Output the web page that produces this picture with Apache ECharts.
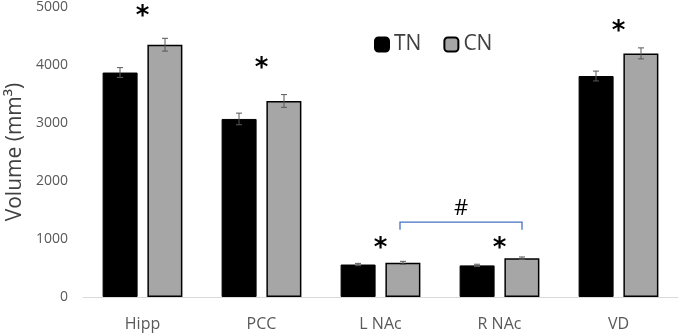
<!DOCTYPE html>
<html>
<head>
<meta charset="utf-8">
<script src="https://cdn.jsdelivr.net/npm/echarts@6/dist/echarts.min.js"></script>
<style>
  html, body { margin: 0; padding: 0; background: #fff; }
  #chart { width: 680px; height: 335px; }
</style>
</head>
<body>
<div id="chart"></div>
<script>
const categories = ['Hipp', 'PCC', 'L NAc', 'R NAc', 'VD']
const tnValues = [3870, 3070, 560, 545, 3810]
const tnErrors = [85, 100, 20, 20, 85]
const cnValues = [4350, 3380, 590, 670, 4200]
const cnErrors = [110, 110, 25, 20, 95]
// asterisk heights (in volume units)
const starValues = [4900, 3990, 900, 900, 4640]
// bracket between L NAc CN and R NAc CN
const bracketFrom = 2
const bracketTo = 3
const bracketLow = 1160
const bracketHigh = 1290

const font = '"Open Sans", "Noto Sans", sans-serif'
const barWidth = 35
const barOffset = 22.5

function errorSeries(name, values, errors, offset) {
  return {
    name: name + 'err',
    type: 'custom',
    z: 5,
    silent: true,
    data: values.map((v, i) => [i, v - errors[i], v + errors[i]]),
    renderItem(params, api) {
      const lo = api.coord([api.value(0), api.value(1)])
      const hi = api.coord([api.value(0), api.value(2)])
      const x = lo[0] + offset
      const cap = 3
      const style = { stroke: '#595959', lineWidth: 1 }
      return {
        type: 'group',
        children: [
          { type: 'line', shape: { x1: x, y1: lo[1], x2: x, y2: hi[1] }, style },
          { type: 'line', shape: { x1: x - cap, y1: lo[1], x2: x + cap, y2: lo[1] }, style },
          { type: 'line', shape: { x1: x - cap, y1: hi[1], x2: x + cap, y2: hi[1] }, style }
        ]
      }
    }
  }
}

const chart = echarts.init(document.getElementById('chart'))
chart.setOption({
  animation: false,
  backgroundColor: '#fff',
  grid: { left: 83, right: 2, top: 7, bottom: 38, outerBoundsMode: 'none' },
  legend: {
    data: ['TN', 'CN'],
    left: 369,
    top: 29,
    itemWidth: 14,
    itemHeight: 14,
    itemGap: 22,
    textStyle: { fontFamily: font, fontSize: 21, color: '#404040' }
  },
  xAxis: {
    type: 'category',
    data: categories,
    axisLine: { lineStyle: { color: '#d9d9d9', width: 1 } },
    axisTick: { show: false },
    axisLabel: { fontFamily: font, fontSize: 16, color: '#595959', margin: 19 }
  },
  yAxis: {
    type: 'value',
    min: 0,
    max: 5000,
    interval: 1000,
    name: 'Volume (mm³)',
    nameLocation: 'middle',
    nameGap: 51,
    nameTextStyle: { fontFamily: font, fontSize: 21, color: '#404040' },
    axisLine: { show: false },
    axisTick: { show: false },
    splitLine: { show: false },
    axisLabel: {
      fontFamily: font,
      fontSize: 14,
      color: '#595959',
      margin: 15,
      formatter: v => String(v)
    }
  },
  series: [
    {
      name: 'TN',
      type: 'bar',
      data: tnValues,
      barWidth: barWidth,
      barGap: '28%',
      itemStyle: { color: '#000', borderColor: '#000', borderWidth: 1 }
    },
    {
      name: 'CN',
      type: 'bar',
      data: cnValues,
      barWidth: barWidth,
      itemStyle: { color: '#a6a6a6', borderColor: '#000', borderWidth: 1.5 }
    },
    errorSeries('TN', tnValues, tnErrors, -barOffset),
    errorSeries('CN', cnValues, cnErrors, barOffset),
    {
      name: 'stars',
      type: 'custom',
      silent: true,
      z: 6,
      data: starValues.map((v, i) => [i, v]),
      renderItem(params, api) {
        const p = api.coord([api.value(0), api.value(1)])
        return {
          type: 'text',
          style: {
            x: p[0],
            y: p[1],
            text: '*',
            fill: '#000',
            font: 'bold 26px "DejaVu Sans", sans-serif',
            align: 'center',
            verticalAlign: 'middle'
          },
          position: [0, 4]
        }
      }
    },
    {
      name: 'bracket',
      type: 'custom',
      silent: true,
      z: 6,
      data: [[bracketFrom, bracketTo, bracketLow, bracketHigh]],
      renderItem(params, api) {
        const a = api.coord([api.value(0), api.value(2)])
        const b = api.coord([api.value(0), api.value(3)])
        const c = api.coord([api.value(1), api.value(3)])
        const d = api.coord([api.value(1), api.value(2)])
        const x1 = a[0] + barOffset - 3
        const x2 = d[0] + barOffset
        return {
          type: 'group',
          children: [
            {
              type: 'polyline',
              shape: { points: [[x1, a[1]], [x1, b[1]], [x2, c[1]], [x2, d[1]]] },
              style: { stroke: '#4472c4', lineWidth: 1.3, fill: null }
            },
            {
              type: 'text',
              style: {
                x: (x1 + x2) / 2,
                y: b[1] - 13,
                text: '#',
                fill: '#000',
                font: '22px ' + font,
                align: 'center',
                verticalAlign: 'middle'
              }
            }
          ]
        }
      }
    }
  ]
})
</script>
</body>
</html>
